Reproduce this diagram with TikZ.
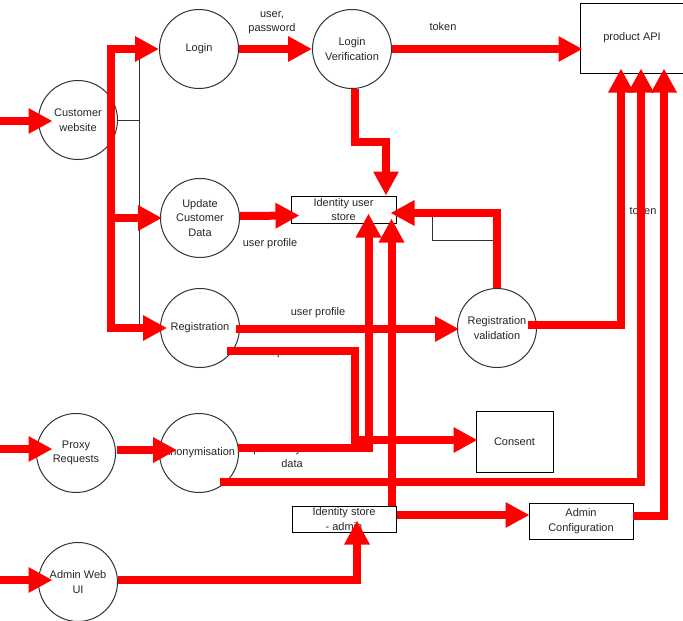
\documentclass[tikz,border=0pt]{standalone}
\usepackage{fontspec}
\setmainfont{Liberation Sans}
\usetikzlibrary{arrows.meta,calc}
\definecolor{flow}{HTML}{FF0000}
\definecolor{edgegray}{HTML}{333333}
\begin{document}
\begin{tikzpicture}[x=1pt,y=-1pt,
  txt/.style={font=\fontsize{11}{14.5}\selectfont,text=black!85},
  proc/.style={circle,draw=edgegray,line width=1pt,fill=white,minimum size=79pt,inner sep=0pt,align=center,txt},
  store/.style={rectangle,draw=black,line width=1pt,fill=white,inner sep=0pt,align=center,txt},
  lbl/.style={align=center,inner sep=0pt,txt},
  flowline/.style={draw=flow,line width=8pt},
  flowarrow/.style={flowline,-{Triangle[length=24pt,width=24pt]}},
  thinline/.style={draw=edgegray,line width=1pt}]
\fill[white] (0,0) rectangle (683,621);
\useasboundingbox (0,0) rectangle (683,621);

% processes
\node[proc] (cw) at (78,120) {Customer\\website};
\node[proc] (login) at (199,49) {Login};
\node[proc] (lv) at (352,49) {Login\\Verification};
\node[proc] (ucd) at (200,218) {Update\\Customer\\Data};
\node[proc] (reg) at (200,328) {Registration};
\node[proc] (rv) at (497,328) {Registration\\validation};
\node[proc] (proxy) at (76,453) {Proxy\\Requests};
\node[proc] (anon) at (199,453) {Anonymisation};
\node[proc] (awu) at (78,582) {Admin Web\\UI};

% stores
\node[store,minimum width=104pt,minimum height=70pt] (api) at (632,38) {product API};
\node[store,minimum width=105pt,minimum height=27pt] (ius) at (343.5,209.5) {Identity user\\store};
\node[store,minimum width=77pt,minimum height=61pt] (consent) at (514.5,441.5) {Consent};
\node[store,minimum width=104pt,minimum height=26pt] (isa) at (344,519) {Identity store\\- admin};
\node[store,minimum width=104pt,minimum height=36pt] (adm) at (581,521) {Admin\\Configuration};

% thin connectors
\coordinate (tree) at (139,120);
\draw[thinline] (cw.east) -- (tree);
\draw[thinline] (tree |- login.west) -- ($(tree |- reg.west)+(0,2)$);
\coordinate (g1) at (432,216);
\coordinate (g2) at (493,240);
\draw[thinline] (g1) |- (g2);

% labels
\node[lbl] (l1) at (272,22.5) {user,\\password};
\node[lbl] (l2) at (443,27) {token};
\node[lbl] (l3) at (270,244) {user profile};
\node[lbl] (l4) at (318,313) {user profile};
\node[lbl] (l5) at (643,211) {token};
\node[lbl] (l6) at (280,352.5) {user profile};
\node[lbl] (l7) at (292,456) {pseudonymised\\data};

% red flows
\coordinate (in1) at (0,121);
\draw[flowarrow] (in1) -- ($(cw.west)+(14.5,1)$);
\coordinate (bus) at (111,328);
\draw[flowarrow,line join=miter] (bus) |- (login.west);
\draw[flowarrow] (bus) |- ($(ucd.west)+(2,0)$);
\draw[flowarrow] ($(bus)+(-4,0)$) -- ($(reg.west)+(7,0)$);
\draw[flowarrow] (login.east) -- (lv.west);
\draw[flowarrow] (lv.east) -- ($(lv.east -| api.west)+(3,0)$);
\coordinate (lvbend) at (386,142);
\draw[flowarrow,line join=miter] ($(lv.south)+(3,0)$) |- (lvbend) -- (lvbend |- ius.north);
\draw[flowarrow] ($(ucd.east)+(0,-2)$) -- ($(ius.west)+(9,6)$);
\draw[flowarrow] ($(reg.east)+(-4,1)$) -- ($(rv.west)+(2,1)$);
\draw[flowarrow,line join=miter] (rv.north) |- ($(ius.east)+(-6,3.5)$);
\draw[flowarrow,line join=miter] ($(rv.east)+(-9,-3)$) -| ($(api.south)+(-11,-5)$);
\draw[flowarrow,line join=miter] ($(anon.center)+(21,29)$) -| ($(api.south)+(9,-5)$);
\draw[flowarrow,line join=miter] ($(adm.east)+(-1,-5)$) -| ($(api.south)+(32,-5)$);
\coordinate (rcbend) at (355,440);
\draw[flowarrow,line join=miter] ($(reg.center)+(27,23)$) -| (rcbend) -- ($(consent.west)+(2,-1.5)$);
\draw[flowarrow,line join=miter] ($(anon.east)+(-1,-5)$) -| ($(ius.south)+(25,-10)$);
\draw[flowarrow] ($(isa.north)+(47.5,0)$) -- ($(ius.south)+(48,-5)$);
\draw[flowarrow] ($(isa.east)+(0,-4)$) -- ($(adm.west)+(1,-6)$);
\draw[flowarrow,line join=miter] ($(awu.east)+(0,-2)$) -| ($(isa.south)+(13,-12)$);
\coordinate (in2) at (0,449);
\draw[flowarrow] (in2) -- ($(proxy.west)+(16.5,-4)$);
\draw[flowarrow] ($(proxy.east)+(1,-3)$) -- ($(anon.west)+(18,-3)$);
\coordinate (in3) at (0,580);
\draw[flowarrow] (in3) -- ($(awu.west)+(14.5,-2)$);
\end{tikzpicture}
\end{document}
